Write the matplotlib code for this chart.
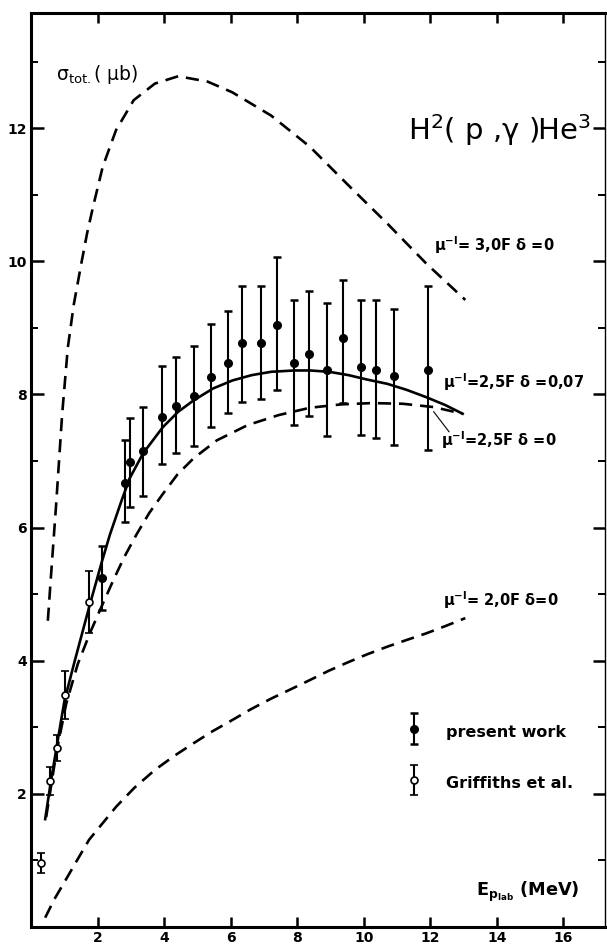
import matplotlib
matplotlib.use('Agg')
import matplotlib.pyplot as plt
from matplotlib.ticker import MultipleLocator
from matplotlib.legend_handler import HandlerErrorbar
from matplotlib.container import ErrorbarContainer

plt.rcParams['font.family'] = ['DejaVu Sans']
plt.rcParams['mathtext.default'] = 'regular'

# present work (filled)
pw_e = [2.12, 2.82, 2.96, 3.37, 3.93, 4.36, 4.88, 5.41, 5.93, 6.34, 6.92, 7.39,
        7.89, 8.35, 8.90, 9.36, 9.91, 10.38, 10.91, 11.93]
pw_s = [5.24, 6.67, 6.99, 7.15, 7.66, 7.83, 7.97, 8.26, 8.47, 8.77, 8.77, 9.05,
        8.47, 8.61, 8.37, 8.85, 8.41, 8.36, 8.27, 8.36]
pw_lo = [0.48, 0.58, 0.68, 0.68, 0.71, 0.71, 0.74, 0.75, 0.75, 0.88, 0.84, 0.98,
         0.93, 0.94, 1.00, 0.98, 1.02, 1.01, 1.03, 1.20]
pw_hi = [0.48, 0.65, 0.66, 0.66, 0.77, 0.73, 0.76, 0.80, 0.78, 0.86, 0.86, 1.01,
         0.95, 0.95, 1.00, 0.87, 1.01, 1.06, 1.01, 1.27]

# Griffiths et al. (open)
gr_e = [0.28, 0.58, 0.79, 1.02, 1.75]
gr_s = [0.96, 2.20, 2.69, 3.49, 4.88]
gr_err = [0.15, 0.21, 0.19, 0.36, 0.47]

# theory curves
c30_e = [0.50, 0.62, 0.75, 0.93, 1.10, 1.28, 1.50, 1.68, 1.86, 2.15, 2.55, 3.08,
         3.72, 4.42, 5.30, 6.04, 7.21, 8.38, 9.54, 10.70, 11.87, 13.05]
c30_s = [4.60, 5.45, 6.35, 7.70, 8.70, 9.35, 9.95, 10.42, 10.82, 11.42, 11.97, 12.42,
         12.67, 12.78, 12.70, 12.54, 12.19, 11.72, 11.14, 10.57, 9.97, 9.42]

c25d_e = [0.42, 0.59, 0.77, 1.00, 1.30, 1.75, 2.12, 2.37, 2.72, 2.96, 3.37, 3.96,
          4.42, 4.88, 5.47, 6.05, 6.63, 7.21, 7.91, 8.38, 8.96, 9.54, 10.13, 10.70,
          11.28, 11.87, 12.45, 12.97]
c25d_s = [1.62, 2.18, 2.72, 3.40, 3.98, 4.82, 5.48, 5.90, 6.41, 6.74, 7.12, 7.51,
          7.74, 7.91, 8.09, 8.21, 8.29, 8.34, 8.36, 8.36, 8.34, 8.29, 8.22, 8.16,
          8.07, 7.96, 7.84, 7.71]

c25_e = [0.45, 0.75, 1.05, 1.40, 1.77, 2.12, 2.47, 2.79, 3.17, 3.55, 3.95, 4.40,
         4.88, 5.58, 6.51, 7.44, 8.38, 9.31, 10.24, 11.17, 12.10, 12.97]
c25_s = [1.65, 2.60, 3.35, 3.95, 4.42, 4.82, 5.21, 5.55, 5.90, 6.22, 6.50, 6.80,
         7.04, 7.31, 7.54, 7.69, 7.80, 7.85, 7.87, 7.86, 7.81, 7.71]

c20_e = [0.42, 0.70, 1.04, 1.40, 1.74, 2.10, 2.56, 3.10, 3.72, 4.30, 4.88, 5.45,
         6.05, 6.60, 7.21, 7.80, 8.38, 8.95, 9.54, 10.12, 10.70, 11.28, 11.87, 12.45, 13.05]
c20_s = [0.14, 0.42, 0.71, 1.02, 1.31, 1.53, 1.81, 2.09, 2.36, 2.57, 2.76, 2.94,
         3.11, 3.27, 3.43, 3.57, 3.71, 3.85, 3.98, 4.10, 4.21, 4.31, 4.41, 4.52, 4.64]

fig = plt.figure(figsize=(6.07, 9.49), dpi=100)
ax = fig.add_axes([0.0514, 0.0232, 0.9453, 0.9631])

dash = dict(color='black', lw=1.9, dashes=(5, 3))
ax.plot(c30_e, c30_s, **dash)
ax.plot(c25_e, c25_s, **dash)
ax.plot(c20_e, c20_s, **dash)
ax.plot(c25d_e, c25d_s, color='black', lw=1.9)

pw = ax.errorbar(pw_e, pw_s, yerr=[pw_lo, pw_hi], fmt='o', color='black', ms=5.5,
                 elinewidth=1.5, capsize=3, capthick=1.8, label='present work')
gr = ax.errorbar(gr_e, gr_s, yerr=gr_err, fmt='o', color='black', mfc='white', mec='black',
                 mew=1.2, ms=5, elinewidth=1.5, capsize=3, capthick=1.8,
                 label='Griffiths et al.')

ax.set_xlim(0, 17.25)
ax.set_ylim(0, 13.73)

ax.xaxis.set_major_locator(MultipleLocator(2))
ax.xaxis.set_major_formatter(plt.FuncFormatter(lambda v, p: '' if v == 0 else '%d' % v))
ax.yaxis.set_major_locator(MultipleLocator(2))
ax.yaxis.set_minor_locator(MultipleLocator(1))
ax.yaxis.set_major_formatter(plt.FuncFormatter(lambda v, p: '' if v == 0 else '%d' % v))

ax.tick_params(axis='both', which='both', direction='in', top=True, right=True)
ax.tick_params(axis='x', which='major', length=7, width=1.8, pad=3, labelsize=10)
ax.tick_params(axis='y', which='major', length=9, width=1.8, pad=3, labelsize=10)
ax.tick_params(axis='y', which='minor', length=5, width=1.4)
for lab in ax.get_xticklabels() + ax.get_yticklabels():
    lab.set_fontweight('bold')

for side in ['left', 'bottom', 'top']:
    ax.spines[side].set_linewidth(2.2)
ax.spines['right'].set_linewidth(1.0)

ax.text(0.75, 12.8, r'$\sigma_{tot.}$( μb)', fontsize=13.5, va='center', ha='left')
ax.text(11.33, 11.97, r'H$^{2}$( p ,$\gamma$ )He$^{3}$', fontsize=21, va='center', ha='left')

lab = dict(fontsize=10.5, fontweight='bold', va='center', ha='left')
ax.text(12.11, 10.24, 'μ$^{-l}$= 3,0F δ =0', **lab)
ax.text(12.38, 8.18, 'μ$^{-l}$=2,5F δ =0,07', **lab)
ax.text(12.32, 7.31, 'μ$^{-l}$=2,5F δ =0', **lab)
ax.text(12.38, 4.91, 'μ$^{-l}$= 2,0F δ=0', **lab)
ax.plot([12.10, 12.56], [7.74, 7.44], color='black', lw=0.8)

ax.text(13.37, 0.53, r'E$_{p_{lab}}$ (MeV)', fontsize=12.8, fontweight='bold',
        va='center', ha='left')

leg = ax.legend(handles=[pw, gr], loc='upper left', bbox_to_anchor=(0.654, 0.226),
                frameon=False, borderpad=0, borderaxespad=0, handlelength=0.9,
                handleheight=1.75, handletextpad=1.6, labelspacing=1.85,
                prop={'size': 11.5, 'weight': 'bold'},
                handler_map={ErrorbarContainer: HandlerErrorbar(xerr_size=0.3, yerr_size=0.95)})

fig.savefig('out.png', dpi=100)
